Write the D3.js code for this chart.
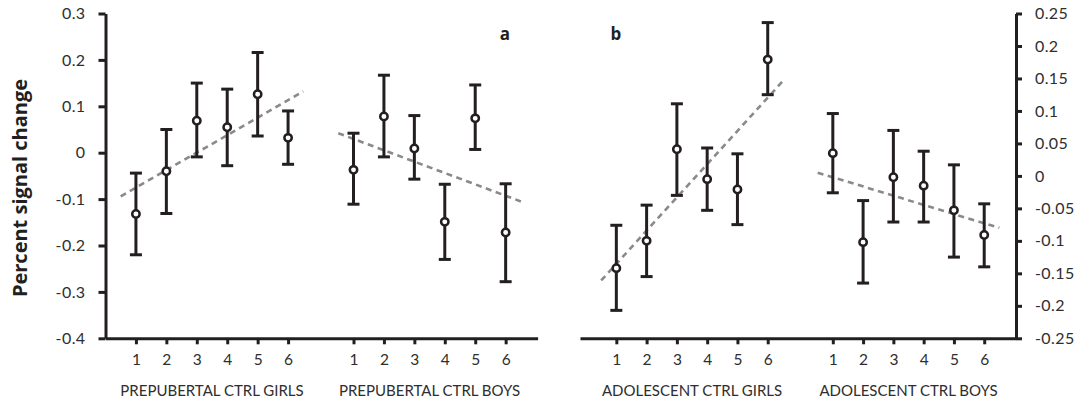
<!DOCTYPE html>
<html>
<head>
<meta charset="utf-8">
<script src="https://cdn.jsdelivr.net/npm/d3@7"></script>
<style>
  html, body { margin: 0; padding: 0; background: #fff; }
  svg { display: block; }
  .tick text { font-family: Lato, "Open Sans", sans-serif; }
</style>
</head>
<body>
<svg id="chart" width="1080" height="402"></svg>
<script>
// ---------- data ----------
const stages = [1, 2, 3, 4, 5, 6];
const stageLabels = ["1", "2", "3", "4", "5", "6"];
const groupLabelsA = ["PREPUBERTAL CTRL GIRLS", "PREPUBERTAL CTRL BOYS"];
const groupLabelsB = ["ADOLESCENT CTRL GIRLS", "ADOLESCENT CTRL BOYS"];

const preGirlsMean = [-0.132, -0.040, 0.069, 0.055, 0.126, 0.032];
const preGirlsLow  = [-0.220, -0.131, -0.009, -0.028, 0.036, -0.025];
const preGirlsHigh = [-0.044, 0.050, 0.150, 0.137, 0.216, 0.090];

const preBoysMean = [-0.037, 0.078, 0.009, -0.149, 0.074, -0.172];
const preBoysLow  = [-0.111, -0.009, -0.057, -0.230, 0.007, -0.278];
const preBoysHigh = [0.042, 0.167, 0.080, -0.068, 0.146, -0.067];

const adoGirlsMean = [-0.142, -0.100, 0.041, -0.005, -0.021, 0.179];
const adoGirlsLow  = [-0.207, -0.155, -0.030, -0.053, -0.075, 0.125];
const adoGirlsHigh = [-0.076, -0.045, 0.111, 0.043, 0.034, 0.236];

const adoBoysMean = [0.035, -0.102, -0.002, -0.015, -0.053, -0.091];
const adoBoysLow  = [-0.026, -0.165, -0.071, -0.071, -0.125, -0.140];
const adoBoysHigh = [0.096, -0.038, 0.070, 0.038, 0.017, -0.043];

// dashed trend lines: value at stage 0.5 and stage 6.5
const trendStages = [0.5, 6.5];
const preGirlsTrend = [-0.094, 0.132];
const preBoysTrend  = [0.042, -0.105];
const adoGirlsTrend = [-0.161, 0.146];
const adoBoysTrend  = [0.005, -0.080];

const yTicksA = [0.3, 0.2, 0.1, 0, -0.1, -0.2, -0.3, -0.4];
const yTickLabelsA = ["0.3", "0.2", "0.1", "0", "-0.1", "-0.2", "-0.3", "-0.4"];
const yTicksB = [0.25, 0.2, 0.15, 0.1, 0.05, 0, -0.05, -0.1, -0.15, -0.2, -0.25];
const yTickLabelsB = ["0.25", "0.2", "0.15", "0.1", "0.05", "0", "-0.05", "-0.1", "-0.15", "-0.2", "-0.25"];

const panelLetters = ["a", "b"];
const yTitle = "Percent signal change";

// ---------- layout ----------
const svg = d3.select("#chart");
const INK = "#231f20";
const TEXT = "#2e2e2e";
const TREND = "#8a8a8a";
const boysOffset = 7.15;
const yTop = 13.5, yBottom = 338.3;

const yA = d3.scaleLinear().domain([-0.4, 0.3]).range([yBottom, yTop]);
const yB = d3.scaleLinear().domain([-0.25, 0.25]).range([yBottom, yTop]);
const xA = d3.scaleLinear().domain([0, 14.2]).range([105.5, 537.6]);
const xB = d3.scaleLinear().domain([-0.2, 14.2]).range([580, 1016]);

function drawPanel(x, y, groups, groupLabels) {
  const g = svg.append("g");
  groups.forEach((grp) => {
    const off = grp.offset;
    const pts = trendStages.map((s, i) => [x(s + off), y(grp.trend[i])]);
    g.append("path")
      .attr("d", d3.line()(pts))
      .attr("fill", "none")
      .attr("stroke", TREND)
      .attr("stroke-width", 2.6)
      .attr("stroke-dasharray", "6,4.5");
  });
  groups.forEach((grp) => {
    const off = grp.offset;
    stages.forEach((s, i) => {
      const cx = x(s + off);
      g.append("line")
        .attr("x1", cx).attr("x2", cx)
        .attr("y1", y(grp.low[i])).attr("y2", y(grp.high[i]))
        .attr("stroke", INK).attr("stroke-width", 3);
      [grp.low[i], grp.high[i]].forEach(v => {
        g.append("line")
          .attr("x1", cx - 6).attr("x2", cx + 6)
          .attr("y1", y(v)).attr("y2", y(v))
          .attr("stroke", INK).attr("stroke-width", 3);
      });
      g.append("circle")
        .attr("cx", cx).attr("cy", y(grp.mean[i]))
        .attr("r", 3.7)
        .attr("fill", "#fff")
        .attr("stroke", INK).attr("stroke-width", 2.5);
    });
  });
  const tickPos = [];
  const tickLab = [];
  groups.forEach(grp => stages.forEach((s, i) => { tickPos.push(s + grp.offset); tickLab.push(stageLabels[i]); }));
  const xAxis = d3.axisBottom(x)
    .tickValues(tickPos)
    .tickFormat((d, i) => tickLab[i])
    .tickSize(6).tickSizeOuter(0).tickPadding(10);
  const ax = svg.append("g").attr("transform", `translate(0,${yBottom})`).call(xAxis);
  ax.select(".domain").attr("stroke", INK).attr("stroke-width", 3);
  ax.selectAll(".tick line").attr("stroke", INK).attr("stroke-width", 3);
  ax.selectAll(".tick text").attr("fill", TEXT).attr("font-size", 15.5);
  groups.forEach((grp, k) => {
    const cx = (x(1 + grp.offset) + x(6 + grp.offset)) / 2;
    svg.append("text")
      .attr("x", cx).attr("y", 396)
      .attr("text-anchor", "middle")
      .attr("font-family", "Lato, 'Open Sans', sans-serif")
      .attr("font-size", 15)
      .attr("fill", TEXT)
      .text(groupLabels[k]);
  });
}

drawPanel(xA, yA, [
  { mean: preGirlsMean, low: preGirlsLow, high: preGirlsHigh, trend: preGirlsTrend, offset: 0 },
  { mean: preBoysMean, low: preBoysLow, high: preBoysHigh, trend: preBoysTrend, offset: boysOffset }
], groupLabelsA);

drawPanel(xB, yB, [
  { mean: adoGirlsMean, low: adoGirlsLow, high: adoGirlsHigh, trend: adoGirlsTrend, offset: 0 },
  { mean: adoBoysMean, low: adoBoysLow, high: adoBoysHigh, trend: adoBoysTrend, offset: boysOffset }
], groupLabelsB);

const yAxisL = d3.axisLeft(yA).tickValues(yTicksA)
  .tickFormat((d, i) => yTickLabelsA[i]).tickSize(7).tickSizeOuter(0).tickPadding(13);
const axL = svg.append("g").attr("transform", `translate(${xA.range()[0]},0)`).call(yAxisL);
axL.select(".domain").attr("stroke", INK).attr("stroke-width", 3);
axL.selectAll(".tick line").attr("stroke", INK).attr("stroke-width", 3);
axL.selectAll(".tick text").attr("fill", TEXT).attr("font-size", 16).attr("letter-spacing", 0.4);

const yAxisR = d3.axisRight(yB).tickValues(yTicksB)
  .tickFormat((d, i) => yTickLabelsB[i]).tickSize(6).tickSizeOuter(0).tickPadding(13);
const axR = svg.append("g").attr("transform", `translate(${xB.range()[1]},0)`).call(yAxisR);
axR.select(".domain").attr("stroke", INK).attr("stroke-width", 3);
axR.selectAll(".tick line").attr("stroke", INK).attr("stroke-width", 3);
axR.selectAll(".tick text").attr("fill", TEXT).attr("font-size", 16).attr("letter-spacing", 0.4);

svg.append("text")
  .attr("transform", `translate(27,188) rotate(-90)`)
  .attr("text-anchor", "middle")
  .attr("font-family", "'Open Sans', sans-serif")
  .attr("font-weight", 700)
  .attr("font-size", 20)
  .attr("fill", INK)
  .text(yTitle);

svg.append("text").attr("x", 505).attr("y", 40).attr("text-anchor", "middle")
  .attr("font-family", "'Open Sans', sans-serif").attr("font-weight", 700)
  .attr("font-size", 17).attr("fill", INK).text(panelLetters[0]);
svg.append("text").attr("x", 616).attr("y", 40).attr("text-anchor", "middle")
  .attr("font-family", "'Open Sans', sans-serif").attr("font-weight", 700)
  .attr("font-size", 17).attr("fill", INK).text(panelLetters[1]);
</script>
</body>
</html>
